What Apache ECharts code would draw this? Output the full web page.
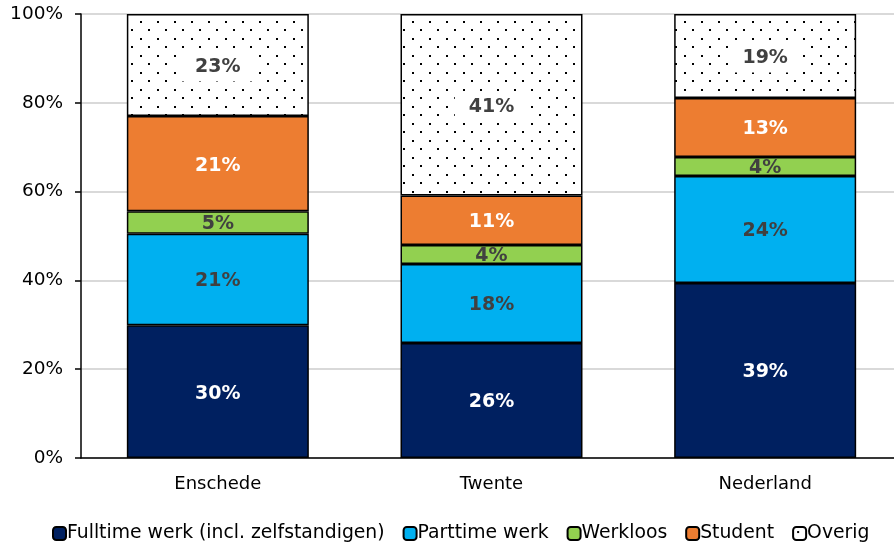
<!DOCTYPE html>
<html><head><meta charset="utf-8">
<script src="https://cdn.jsdelivr.net/npm/echarts@6/dist/echarts.min.js"></script>
<style>html,body{margin:0;padding:0;background:#fff;overflow:hidden}#c{width:902px;height:543px}</style>
</head><body><div id="c"></div>
<script>
const categories = ['Enschede', 'Twente', 'Nederland'];
const fulltime = [29.9, 25.9, 39.4];
const parttime = [20.6, 17.8, 24.1];
const werkloos = [5.1, 4.3, 4.3];
const student = [21.4, 11.1, 13.3];
const overig = [23.0, 40.9, 18.9];
const seriesNames = ['Fulltime werk (incl. zelfstandigen)', 'Parttime werk', 'Werkloos', 'Student', 'Overig'];
const yTicks = [0, 20, 40, 60, 80, 100];

const tile = document.createElement('canvas');
tile.width = 17; tile.height = 17;
const tc = tile.getContext('2d');
tc.fillStyle = '#fff'; tc.fillRect(0, 0, 17, 17);
tc.fillStyle = '#000';
tc.fillRect(4, 4, 2, 2);
tc.fillRect(12, 12, 2, 2);
const pattern = { image: tile, repeat: 'repeat' };

const font = 'DejaVu Sans, Verdana, sans-serif';
const colors = ['#002060', '#00B0F0', '#92D050', '#ED7D31', pattern];
const labelColors = ['#fff', '#404040', '#404040', '#fff', '#404040'];
const datasets = [fulltime, parttime, werkloos, student, overig];

const chart = echarts.init(document.getElementById('c'), null, { renderer: 'canvas' });
chart.setOption({
  animation: false,
  grid: { left: 81, top: 14, right: 0, bottom: 85, containLabel: false },
  legend: {
    top: 519, left: 47, itemWidth: 13, itemHeight: 13, itemGap: 18,
    textStyle: { fontFamily: font, fontSize: 18.8, color: '#000', padding: [0, 0, 0, -4] },
    data: seriesNames
  },
  xAxis: {
    type: 'category', data: categories,
    axisLine: { lineStyle: { color: '#000', width: 1.5 } },
    axisTick: { show: false },
    axisLabel: { fontFamily: font, fontSize: 18, color: '#000', margin: 17 }
  },
  yAxis: {
    type: 'value', min: yTicks[0], max: yTicks[yTicks.length - 1], interval: 20,
    axisLine: { show: true, lineStyle: { color: '#000', width: 1.5 } },
    axisTick: { show: true, length: 6, lineStyle: { color: '#000', width: 1.5 } },
    axisLabel: { fontFamily: font, fontSize: 18.5, color: '#000', formatter: '{value}%', margin: 18 },
    splitLine: { lineStyle: { color: '#d9d9d9', width: 2 } }
  },
  series: datasets.map((d, i) => ({
    name: seriesNames[i], type: 'bar', stack: 'a', data: d, barWidth: '66.5%',
    itemStyle: { color: colors[i], borderColor: '#000', borderWidth: 1.5 },
    label: {
      show: true, position: 'inside', fontFamily: font, fontWeight: 'bold', fontSize: 19,
      color: labelColors[i], offset: [0, 2],
      backgroundColor: i === 4 ? '#fff' : 'transparent', padding: i === 4 ? [5, 14] : 0,
      formatter: p => Math.round(p.value) + '%'
    }
  }))
});
</script></body></html>
